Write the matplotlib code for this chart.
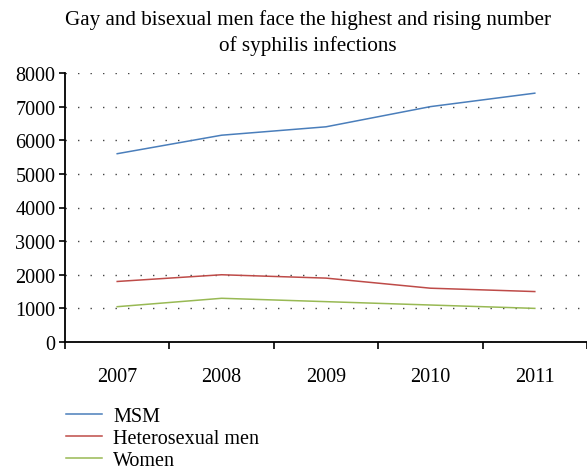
import matplotlib.pyplot as plt

# Data
years = ['2007', '2008', '2009', '2010', '2011']
msm = [5600, 6150, 6400, 7000, 7400]
hetero_men = [1800, 2000, 1900, 1600, 1500]
women = [1050, 1300, 1200, 1100, 1000]

plt.rcParams['font.family'] = ['Liberation Serif', 'DejaVu Serif']

fig = plt.figure(figsize=(5.87, 4.77), dpi=100)
ax = fig.add_axes([65 / 587, 1 - 343 / 477, 1 - 65 / 587, (343 - 74) / 477])

x = range(len(years))
ax.plot(x, msm, color='#4a7ebb', lw=1.1, label='MSM')
ax.plot(x, hetero_men, color='#be4b48', lw=1.1, label='Heterosexual men')
ax.plot(x, women, color='#98b954', lw=1.1, label='Women')

ax.set_xlim(-0.5, len(years) - 0.5)
ax.set_ylim(0, 8000)
ax.set_yticks(range(0, 8001, 1000))
ax.set_xticks([i - 0.5 for i in range(len(years) + 1)])
ax.set_xticklabels([])
ax.set_xticks(list(x), minor=True)
ax.set_xticklabels(years, minor=True)
ax.tick_params(axis='x', which='minor', length=0, pad=18, labelsize=14.5)
ax.tick_params(axis='x', which='major', length=5, width=1.2, direction='out')
ax.tick_params(axis='y', length=4, width=1.2, direction='out', labelsize=14.5, pad=3)

ax.yaxis.grid(True, color='#444444', linestyle=(0, (1, 8)), lw=1)
ax.set_axisbelow(True)
for s in ['top', 'right']:
    ax.spines[s].set_visible(False)
for s in ['left', 'bottom']:
    ax.spines[s].set_linewidth(1.3)

fig.text(308 / 587, 1 - 33 / 477,
         'Gay and bisexual men face the highest and rising number\nof syphilis infections',
         ha='center', va='center', fontsize=15.2, linespacing=1.35)

fig.legend(loc='upper left', bbox_to_anchor=(58 / 587, 1 - 400 / 477),
           frameon=False, fontsize=14.5, handlelength=1.8, labelspacing=0.15,
           handletextpad=0.55, borderaxespad=0)

fig.savefig('out.png', dpi=100)
